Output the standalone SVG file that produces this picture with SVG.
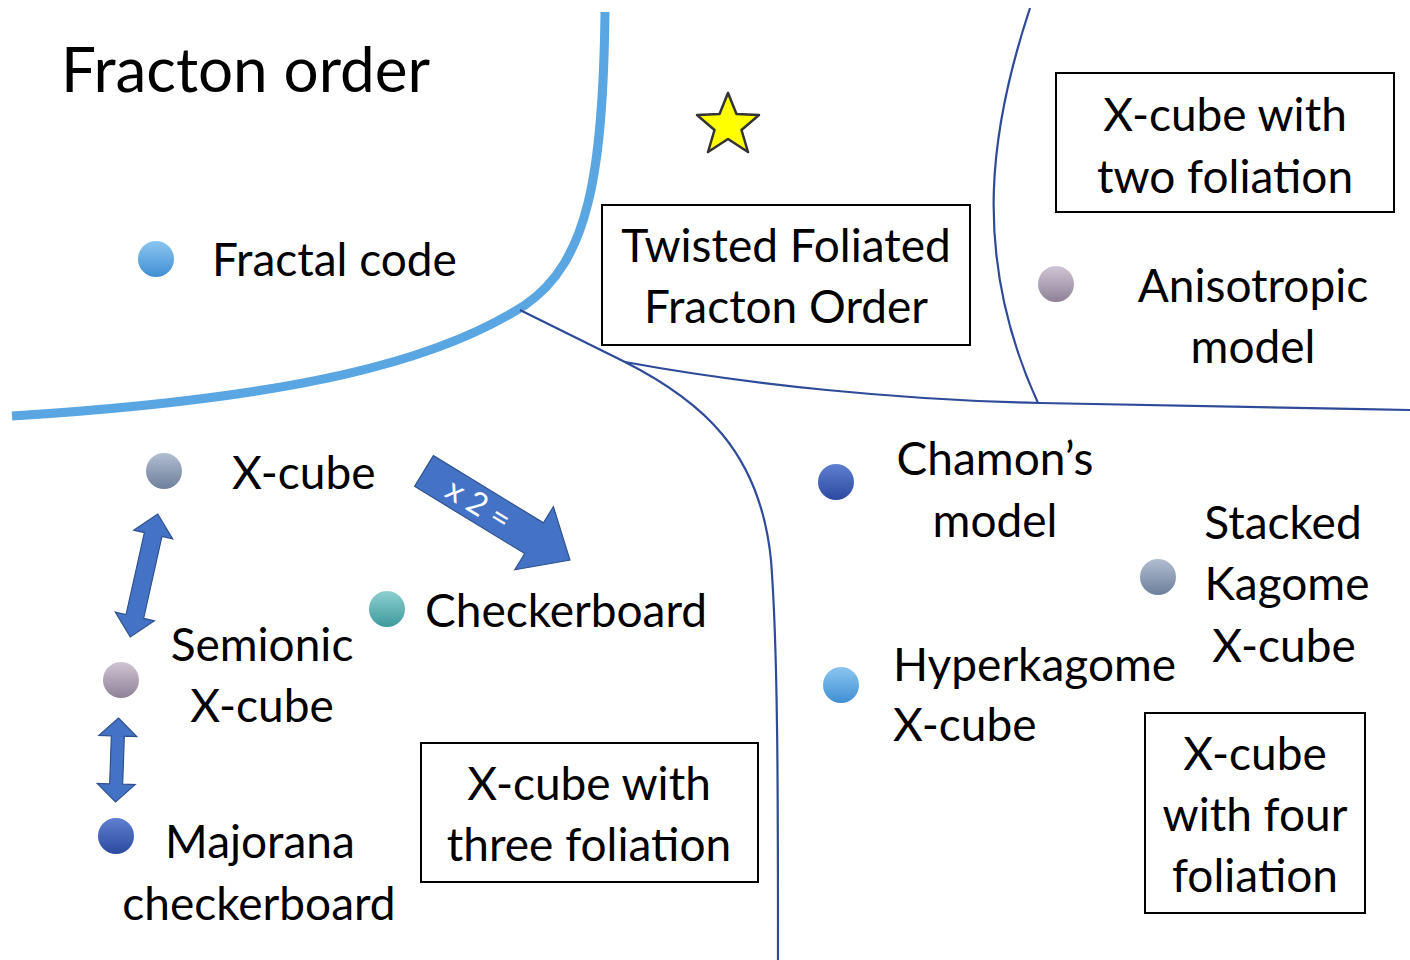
<svg xmlns="http://www.w3.org/2000/svg" width="1410" height="960" viewBox="0 0 1410 960">
  <style>
    .t { font-family: Lato, "Open Sans", sans-serif; font-size: 46px; fill: #000; }
    .c { text-anchor: middle; }
    .title { font-family: Lato, "Open Sans", sans-serif; font-size: 62px; fill: #000; }
    .box { fill: #fff; stroke: #000; stroke-width: 2; }
    .phase { fill: none; stroke: #2e4a99; stroke-width: 2.2; }
    .bold { fill: none; stroke: #5aa6e2; stroke-width: 9; stroke-linecap: butt; }
    .arrow { fill: #4472c4; stroke: #2f528f; stroke-width: 1.2; }
  </style>
  <defs>
    <linearGradient id="gLight" x1="0" y1="0" x2="0" y2="1"><stop offset="0" stop-color="#8cc6f0"/><stop offset="1" stop-color="#3f8fd4"/></linearGradient>
    <linearGradient id="gDark" x1="0" y1="0" x2="0" y2="1"><stop offset="0" stop-color="#5f7fd0"/><stop offset="1" stop-color="#2c4aa0"/></linearGradient>
    <linearGradient id="gGrey" x1="0" y1="0" x2="0" y2="1"><stop offset="0" stop-color="#b2bdd0"/><stop offset="1" stop-color="#6d7f9c"/></linearGradient>
    <linearGradient id="gMauve" x1="0" y1="0" x2="0" y2="1"><stop offset="0" stop-color="#cfc6d4"/><stop offset="1" stop-color="#8e8198"/></linearGradient>
    <linearGradient id="gTeal" x1="0" y1="0" x2="0" y2="1"><stop offset="0" stop-color="#8fd0d0"/><stop offset="1" stop-color="#3c9a9c"/></linearGradient>
  </defs>

  <rect width="1410" height="960" fill="#fff"/>

  <!-- phase boundaries -->
  <g id="connectors">
    <path class="bold" d="M605,12 C603,175 588,262 525,305 C440,360 300,398 12,416"/>
    <path class="phase" d="M520,310 L625,362 C700,400 760,450 771,560 C778,650 778,800 778,960"/>
    <path class="phase" d="M625,362 C750,385 900,400 1040,403 C1200,406 1300,408 1410,410"/>
    <path class="phase" d="M1030,8 C993,120 968,250 1038,403"/>
    <!-- x2 arrow -->
    <g transform="translate(424,471) rotate(31.4)">
      <path class="arrow" d="M0,-18 L129,-18 L129,-37 L171,0 L129,37 L129,18 L0,18 Z"/>
      <text x="64" y="11" text-anchor="middle" font-family="Lato, 'Open Sans', sans-serif" font-size="32" fill="#fff">x 2 =</text>
    </g>
    <!-- double arrows -->
    <path class="arrow" transform="translate(144,575.5) rotate(102.6)" d="M-63,0 L-42,-20 L-42,-9 L42,-9 L42,-20 L63,0 L42,20 L42,9 L-42,9 L-42,20 Z"/>
    <path class="arrow" transform="translate(117,760) rotate(92)" d="M-42,0 L-24,-19 L-24,-6.5 L24,-6.5 L24,-19 L42,0 L24,19 L24,6.5 L-24,6.5 L-24,19 Z"/>
  </g>

  <text class="title" x="61" y="92">Fracton order</text>

  <g id="star">
    <polygon points="728,93 736.5,114 759,115 741.5,130 748,152 728,139 708,152 714.5,130 697,115 719.5,114" fill="#ffff00" stroke="#333" stroke-width="2.5" stroke-linejoin="round"/>
  </g>

  <g id="twisted">
    <rect class="box" x="602" y="205" width="368" height="140"/>
    <text class="t c" x="786" y="262">Twisted Foliated</text>
    <text class="t c" x="786" y="323">Fracton Order</text>
  </g>

  <g id="two-foliation">
    <rect class="box" x="1056" y="73" width="338" height="139"/>
    <text class="t c" x="1225" y="131">X-cube with</text>
    <text class="t c" x="1225" y="193">two foliation</text>
  </g>

  <g id="three-foliation">
    <rect class="box" x="421" y="743" width="337" height="139"/>
    <text class="t c" x="589" y="800">X-cube with</text>
    <text class="t c" x="589" y="861">three foliation</text>
  </g>

  <g id="four-foliation">
    <rect class="box" x="1145" y="713" width="220" height="200"/>
    <text class="t c" x="1255" y="770">X-cube</text>
    <text class="t c" x="1255" y="831">with four</text>
    <text class="t c" x="1255" y="892">foliation</text>
  </g>

  <g id="fractal-code">
    <circle cx="156" cy="259" r="18" fill="url(#gLight)"/>
    <text class="t" x="212" y="276">Fractal code</text>
  </g>

  <g id="anisotropic">
    <circle cx="1056" cy="284" r="18" fill="url(#gMauve)"/>
    <text class="t c" x="1253" y="302">Anisotropic</text>
    <text class="t c" x="1253" y="363">model</text>
  </g>

  <g id="x-cube">
    <circle cx="164" cy="471" r="18" fill="url(#gGrey)"/>
    <text class="t" x="232" y="489">X-cube</text>
  </g>

  <g id="chamon">
    <circle cx="836" cy="482" r="18" fill="url(#gDark)"/>
    <text class="t c" x="995" y="475">Chamon’s</text>
    <text class="t c" x="995" y="537">model</text>
  </g>

  <g id="stacked-kagome">
    <circle cx="1158" cy="577" r="18" fill="url(#gGrey)"/>
    <text class="t c" x="1283" y="539">Stacked</text>
    <text class="t c" x="1287" y="600">Kagome</text>
    <text class="t c" x="1284" y="662">X-cube</text>
  </g>

  <g id="checkerboard">
    <circle cx="387" cy="609" r="18" fill="url(#gTeal)"/>
    <text class="t" x="425" y="627">Checkerboard</text>
  </g>

  <g id="semionic">
    <circle cx="121" cy="680" r="18" fill="url(#gMauve)"/>
    <text class="t c" x="262" y="661">Semionic</text>
    <text class="t c" x="262" y="722">X-cube</text>
  </g>

  <g id="hyperkagome">
    <circle cx="841" cy="685" r="18" fill="url(#gLight)"/>
    <text class="t" x="893" y="681">Hyperkagome</text>
    <text class="t" x="893" y="741">X-cube</text>
  </g>

  <g id="majorana">
    <circle cx="116" cy="836" r="18" fill="url(#gDark)"/>
    <text class="t c" x="260" y="858">Majorana</text>
    <text class="t c" x="259" y="920">checkerboard</text>
  </g>
</svg>
